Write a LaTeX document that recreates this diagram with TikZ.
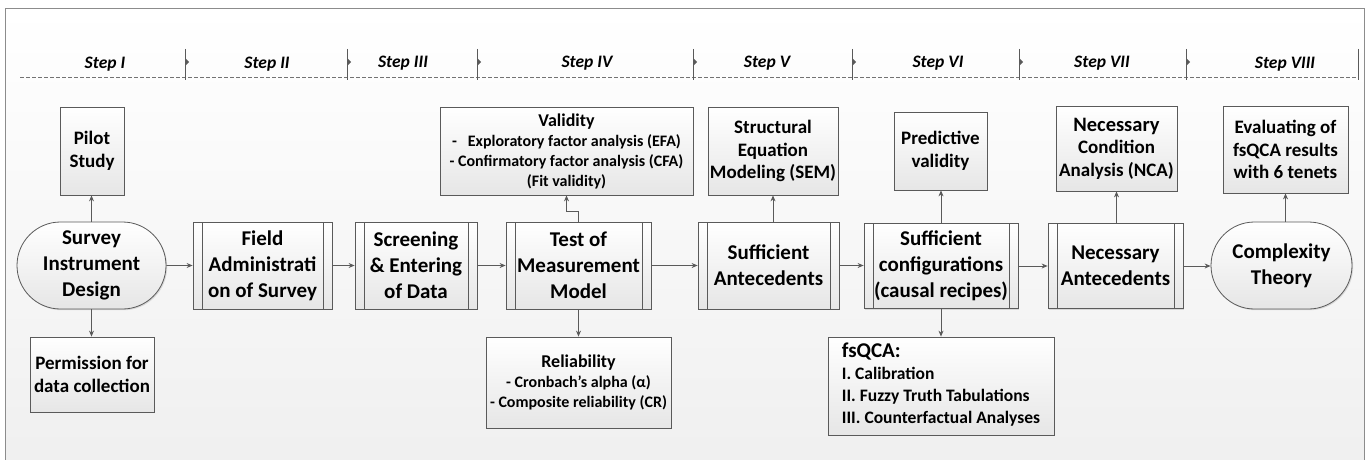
\documentclass[tikz,border=0pt]{standalone}
\usepackage{fontspec}
\setmainfont{Carlito}
\setlength{\parindent}{0pt}
\usetikzlibrary{arrows.meta,shapes.misc,shadows}
\definecolor{linec}{HTML}{5A5A5A}
\definecolor{boxb}{HTML}{E6E6E6}
\begin{document}
\begin{tikzpicture}[x=1pt,y=-1pt,
  box/.style={draw=linec, line width=0.8pt, top color=white, bottom color=boxb, align=center, inner sep=0pt,
    drop shadow={shadow xshift=1.2pt, shadow yshift=-1.2pt, opacity=0.25}},
  big/.style={font=\fontsize{21}{26}\selectfont\bfseries},
  small/.style={font=\fontsize{19}{22.5}\selectfont\bfseries},
  tiny/.style={font=\fontsize{16}{20}\selectfont\bfseries},
  proc/.style={box, big, path picture={
     \draw[linec, line width=0.8pt] ([xshift=9pt]path picture bounding box.north west) -- ([xshift=9pt]path picture bounding box.south west);
     \draw[linec, line width=0.8pt] ([xshift=-9pt]path picture bounding box.north east) -- ([xshift=-9pt]path picture bounding box.south east);}},
  term/.style={box, big, rounded rectangle},
  conn/.style={draw=linec, line width=0.8pt, -{Stealth[length=6pt,width=5pt]}},
  steplab/.style={font=\fontsize{17.5}{20}\selectfont\bfseries\itshape},
  divider/.style={draw=linec, line width=0.8pt}
]
\useasboundingbox (0,0) rectangle (1366,460);
\shade[top color=white, bottom color=black!6] (5,8) rectangle (1364,460);
\draw[draw=black!45, line width=0.8pt] (5,460) -- (5,8) -- (1364,8) -- (1364,460);

% step bar
\draw[draw=black!55, line width=0.8pt, dash pattern=on 4pt off 2pt] (20,77) -- (1358,77);
\foreach \x in {185,347,477,693,852,1019,1186} {
  \draw[divider] (\x,49) -- (\x,80);
  \fill[linec] (\x,58) -- (\x+4,62) -- (\x,66) -- cycle;
}
\draw[divider] (1358,49) -- (1358,80);
\node[steplab] (s1) at (105,64) {Step I};
\node[steplab] (s2) at (267,64) {Step II};
\node[steplab] (s3) at (403,63) {Step III};
\node[steplab] (s4) at (587,63) {Step IV};
\node[steplab] (s5) at (767,63) {Step V};
\node[steplab] (s6) at (938,63) {Step VI};
\node[steplab] (s7) at (1102,63) {Step VII};
\node[steplab] (s8) at (1285,64) {Step VIII};

% main row
\node[term, minimum width=149pt, minimum height=87pt] (survey) at (91.5,265.5) {Survey\\Instrument\\Design};
\node[proc, minimum width=139pt, minimum height=87pt] (field) at (262.5,265.5) {Field\\Administrati\\on of Survey};
\node[proc, minimum width=122pt, minimum height=87pt] (screen) at (416,265.5) {Screening\\\& Entering\\of Data};
\node[proc, minimum width=145pt, minimum height=87pt] (test) at (578.5,265.5) {Test of\\Measurement\\Model};
\node[proc, minimum width=141pt, minimum height=87pt] (suffA) at (768.5,265.5) {Sufficient\\Antecedents};
\node[proc, minimum width=154pt, minimum height=85pt] (suffC) at (941,266) {Sufficient\\configurations\\(causal recipes)};
\node[proc, minimum width=135pt, minimum height=85pt] (necA) at (1115.5,266) {Necessary\\Antecedents};
\node[term, minimum width=141pt, minimum height=87pt] (cx) at (1281.5,265.5) {Complexity\\Theory};

% upper boxes
\node[box, small, minimum width=64pt, minimum height=88pt] (pilot) at (92,151) {Pilot\\Study};
\node[box, tiny, minimum width=253pt, minimum height=88pt] (valid) at (566.5,151) {{\fontsize{18}{20}\selectfont Validity}\\-~~~Exploratory factor analysis (EFA)\\- Confirmatory factor analysis (CFA)\\(Fit validity)};
\node[box, small, minimum width=130pt, minimum height=88pt] (sem) at (773,151) {Structural\\Equation\\Modeling (SEM)};
\node[box, small, minimum width=93pt, minimum height=78pt] (pred) at (940.5,151) {Predictive\\validity};
\node[box, small, minimum width=121pt, minimum height=85pt] (nca) at (1116.5,148.5) {{\fontsize{20.5}{22.5}\selectfont Necessary}\\Condition\\Analysis (NCA)};
\node[box, small, minimum width=125pt, minimum height=87pt] (eval) at (1285.5,149.5) {Evaluating of\\fsQCA results\\with 6 tenets};

% lower boxes
\node[box, small, minimum width=124pt, minimum height=75pt] (perm) at (92,374.5) {Permission for\\data collection};
\node[box, tiny, minimum width=185pt, minimum height=91pt] (reli) at (578.5,382.5) {{\fontsize{18}{21}\selectfont Reliability}\\- Cronbach's alpha (α)\\- Composite reliability (CR)};
\node[box, minimum width=226pt, minimum height=98pt, font=\fontsize{17.5}{22}\selectfont\bfseries] (fsqca) at (941,386) {\begin{tabular}{@{}l@{}}{\fontsize{21}{22}\selectfont fsQCA:}\\ I. Calibration\\ II. Fuzzy Truth Tabulations\\ III. Counterfactual Analyses\end{tabular}};

% connectors
\draw[conn] (survey) -- (field);
\draw[conn] (field) -- (screen);
\draw[conn] (screen) -- (test);
\draw[conn] (test) -- (suffA);
\draw[conn] (suffA.east) -- (suffC.west |- suffA.east);
\draw[conn] (suffC) -- (necA);
\draw[conn] (necA.east) -- (cx.west |- necA.east);

\draw[conn] (survey.north) -- (survey.north |- pilot.south);
\draw[conn] (survey.south) -- (survey.south |- perm.north);
\draw[conn] (test.north) -- ++(0,-10) -| (valid.south);
\draw[conn] (test.south) -- (test.south |- reli.north);
\draw[conn] (sem.south |- suffA.north) -- (sem.south);
\draw[conn] (suffC.north) -- (suffC.north |- pred.south);
\draw[conn] (suffC.south) -- (suffC.south |- fsqca.north);
\draw[conn] (nca.south |- necA.north) -- (nca.south);
\draw[conn] (eval.south |- cx.north) -- (eval.south);
\end{tikzpicture}
\end{document}
